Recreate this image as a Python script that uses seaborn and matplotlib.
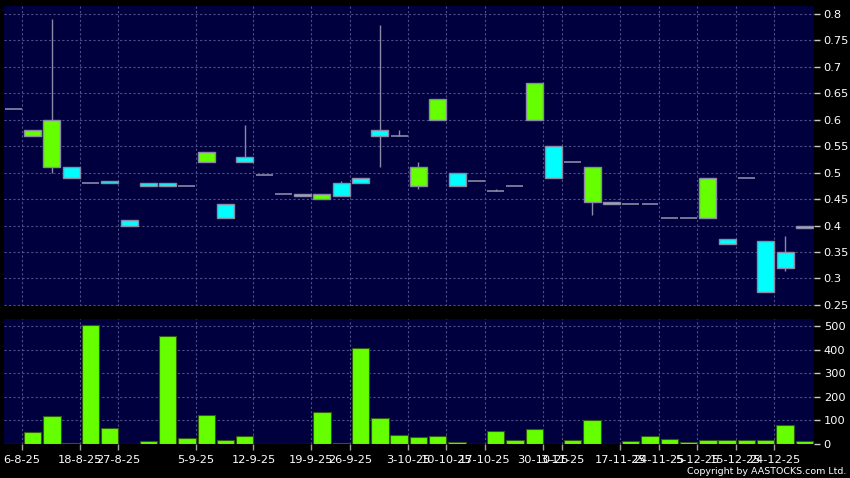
import numpy as np
import pandas as pd
import matplotlib
matplotlib.use("Agg")
import matplotlib.pyplot as plt
import seaborn as sns

# ---- data ----
opens = [0.62, 0.57, 0.51, 0.51, 0.48, 0.485, 0.41, 0.48, 0.48, 0.475,
         0.52, 0.44, 0.53, 0.495, 0.46, 0.46, 0.45, 0.48, 0.49, 0.58,
         0.57, 0.475, 0.60, 0.50, 0.485, 0.465, 0.475, 0.60, 0.55, 0.52,
         0.445, 0.445, 0.44, 0.44, 0.415, 0.415, 0.415, 0.375, 0.49, 0.37,
         0.35, 0.40]
highs = [0.62, 0.58, 0.79, 0.51, 0.48, 0.485, 0.41, 0.48, 0.48, 0.475,
         0.54, 0.44, 0.59, 0.495, 0.46, 0.46, 0.46, 0.485, 0.49, 0.78,
         0.58, 0.52, 0.64, 0.50, 0.485, 0.47, 0.475, 0.67, 0.55, 0.52,
         0.51, 0.445, 0.44, 0.44, 0.415, 0.415, 0.49, 0.375, 0.49, 0.37,
         0.38, 0.40]
lows = [0.62, 0.57, 0.50, 0.49, 0.48, 0.48, 0.40, 0.475, 0.475, 0.475,
        0.52, 0.415, 0.52, 0.495, 0.46, 0.455, 0.45, 0.455, 0.48, 0.51,
        0.57, 0.47, 0.60, 0.475, 0.485, 0.465, 0.475, 0.60, 0.49, 0.52,
        0.42, 0.44, 0.44, 0.44, 0.415, 0.415, 0.415, 0.365, 0.49, 0.275,
        0.315, 0.395]
closes = [0.62, 0.58, 0.60, 0.49, 0.48, 0.48, 0.40, 0.475, 0.475, 0.475,
          0.54, 0.415, 0.52, 0.495, 0.46, 0.455, 0.46, 0.455, 0.48, 0.57,
          0.57, 0.51, 0.64, 0.475, 0.485, 0.465, 0.475, 0.67, 0.49, 0.52,
          0.51, 0.44, 0.44, 0.44, 0.415, 0.415, 0.49, 0.365, 0.49, 0.275,
          0.32, 0.395]
volumes = [0, 51, 118, 5, 505, 68, 1, 11, 460, 25,
           122, 16, 36, 0, 0, 2, 136, 3, 409, 112,
           38, 28, 34, 8, 0, 54, 16, 62, 0, 19,
           101, 0, 12, 32, 23, 8, 15, 15, 15, 15,
           79, 12]
tick_candles = [0, 3, 5, 9, 12, 15, 17, 20, 22, 24, 27, 28, 31, 33, 35, 37, 39]
tick_labels = ["6-8-25", "18-8-25", "27-8-25", "5-9-25", "12-9-25", "19-9-25",
               "26-9-25", "3-10-25", "10-10-25", "17-10-25", "30-10-25",
               "3-11-25", "17-11-25", "24-11-25", "5-12-25", "15-12-25",
               "24-12-25"]
price_ticks = [0.25, 0.3, 0.35, 0.4, 0.45, 0.5, 0.55, 0.6, 0.65, 0.7, 0.75, 0.8]
volume_ticks = [0, 100, 200, 300, 400, 500]

# ---- style ----
BG = "#000000"
PANEL = "#00003f"
GRID = "#4e4e88"
UP = "#66ff00"
DOWN = "#00ffff"
EDGE = "#8a8aa6"

sns.set_theme(style="dark", rc={
    "axes.facecolor": PANEL,
    "figure.facecolor": BG,
    "axes.edgecolor": PANEL,
})
plt.rcParams["font.family"] = ["DejaVu Sans"]

W, H = 850, 478
fig = plt.figure(figsize=(W / 100, H / 100), dpi=100, facecolor=BG)
ax = fig.add_axes([4 / W, (H - 306) / H, 810 / W, 300 / H])
ax2 = fig.add_axes([4 / W, (H - 444) / H, 810 / W, 125 / H])

n = len(opens)
df = pd.DataFrame({"idx": np.arange(n), "open": opens, "high": highs,
                   "low": lows, "close": closes, "volume": volumes})

# ---- candles ----
body_w = 0.88
for i, r in df.iterrows():
    o, h, l, c = r["open"], r["high"], r["low"], r["close"]
    if h > max(o, c) or l < min(o, c):
        ax.vlines(i, l, h, color=EDGE, lw=1, zorder=2)
    if o == c:
        ax.hlines(c, i - body_w / 2, i + body_w / 2, color=EDGE, lw=1.2, zorder=3)
    else:
        col = UP if c > o else DOWN
        ax.bar(i, abs(c - o), bottom=min(o, c), width=body_w, color=col,
               edgecolor=EDGE, linewidth=1, zorder=3)

# ---- volume ----
sns.barplot(data=df, x="idx", y="volume", color=UP, saturation=1, width=0.9,
            edgecolor="#2f5a10", linewidth=0.8, ax=ax2, zorder=3)

xlim = (-0.48, 41.5)
xt = [t + 0.45 for t in tick_candles]
for a in (ax, ax2):
    a.set_xlim(*xlim)
    a.set_xlabel("")
    a.set_ylabel("")
    a.grid(True, color=GRID, linestyle=(0, (2, 2)), linewidth=0.8, zorder=0)
    a.set_axisbelow(True)
    for s in a.spines.values():
        s.set_visible(False)
    a.yaxis.tick_right()
    a.tick_params(axis="y", colors="#c8c8c8", labelcolor="white", length=4,
                  width=1, pad=3, labelsize=8.2, left=False, right=True)

ax.set_ylim(0.248, 0.815)
ax.set_yticks(price_ticks, [f"{v:g}" for v in price_ticks])
ax.set_xticks(xt, [])
ax.tick_params(axis="x", length=0)

ax2.set_ylim(0, 531)
ax2.set_yticks(volume_ticks, [str(v) for v in volume_ticks])
ax2.set_xticks(xt, tick_labels)
ax2.tick_params(axis="x", colors="#a0a0a0", labelcolor="white", length=4,
                width=1, pad=4, labelsize=8.2, bottom=True)

fig.text(846 / W, 1 - 471 / H, "Copyright by AASTOCKS.com Ltd.", ha="right",
         va="center", color="white", fontsize=6.8)

fig.savefig("out.png", dpi=100, facecolor=BG)
